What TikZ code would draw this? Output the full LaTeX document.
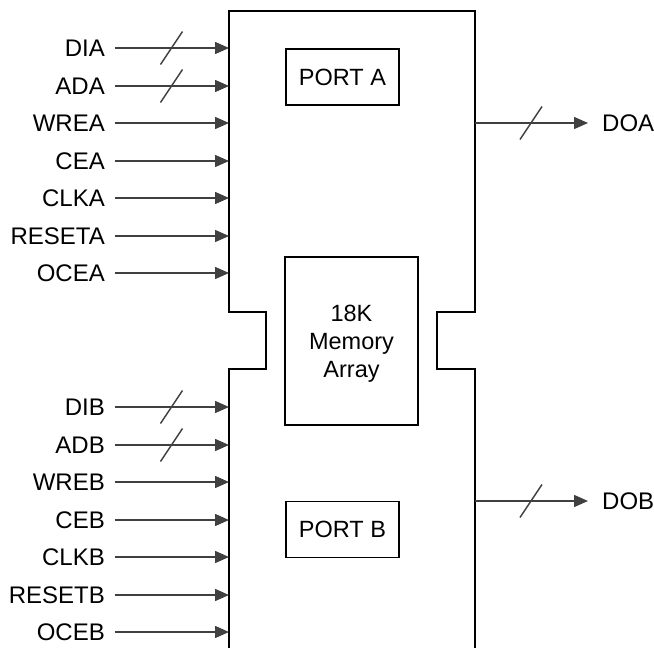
\documentclass[tikz,border=0pt]{standalone}
\usepackage{fontspec}
\setmainfont{Liberation Sans}
\usetikzlibrary{arrows.meta}
\definecolor{wire}{HTML}{404040}
\tikzset{
  sig/.style={draw=wire, line width=1.5pt, -{Triangle[length=14pt,width=12pt]}},
  bus/.style={draw=wire, line width=1.4pt},
  outl/.style={draw=black, line width=1.6pt},
  lbl/.style={inner sep=0pt, text height=17.2pt, text depth=0pt, font=\fontsize{24}{28}\selectfont},
  blk/.style={draw=black, line width=1.6pt, inner sep=0pt, font=\fontsize{23.5}{28}\selectfont, align=center}
}
\begin{document}
\begin{tikzpicture}[x=1pt,y=-1pt]
\useasboundingbox (0,0) rectangle (654,648);
\begin{scope}
\clip (0,0) rectangle (654,648);
\draw[outl] (229,660) -- (229,369) -- (266,369) -- (266,312) -- (229,312) -- (229,11)
  -- (475,11) -- (475,312) -- (437,312) -- (437,369) -- (475,369) -- (475,660);
\end{scope}
% inner blocks
\node[blk, minimum width=113pt, minimum height=56pt] (porta) at (342.5,77) {PORT A};
\node[blk, minimum width=113pt, minimum height=56pt] (portb) at (342.5,529.5) {PORT B};
\node[blk, minimum width=133pt, minimum height=168pt, text height=73pt, text depth=0pt] (mem) at (351.5,341) {18K\\Memory\\Array};
% inputs
\foreach \name/\y [count=\i] in {DIA/48,ADA/86,WREA/123,CEA\ /161,CLKA/198,RESETA/236,OCEA/273,
                      DIB/407,ADB/445,WREB/482,CEB\ /520,CLKB/557,RESETB/595,OCEB/632}{
  \node[lbl, anchor=east] (l\i) at (105,\y) {\name};
  \coordinate (s\i) at (114.5,\y);
  \coordinate (e\i) at (229,\y);
  \draw[sig] (s\i) -- (e\i);
}
% bus slashes
\foreach \y in {48,86,407,445}{
  \draw[bus] (160.5,\y+16.5) -- (182.5,\y-16.5);
}
% outputs
\node[lbl, anchor=west] (doa) at (602,123) {DOA};
\node[lbl, anchor=west] (dob) at (602,501) {DOB};
\coordinate (oa) at (475,123);
\coordinate (ob) at (475,501);
\coordinate (ta) at (588,123);
\coordinate (tb) at (588,501);
\draw[sig] (oa) -- (ta);
\draw[sig] (ob) -- (tb);
\draw[bus] (520,139.5) -- (542,106.5);
\draw[bus] (520,517.5) -- (542,484.5);
\end{tikzpicture}
\end{document}
